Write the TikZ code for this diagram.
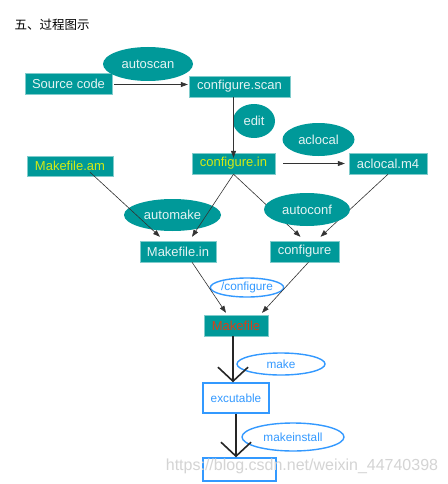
\documentclass[tikz,border=0pt]{standalone}
\usepackage{fontspec}
\setmainfont{Liberation Sans}
\newfontfamily\cjk{Noto Sans CJK SC}
\usetikzlibrary{shapes.geometric,arrows.meta}
\definecolor{tealbox}{RGB}{0,153,153}
\definecolor{tealtext}{RGB}{228,243,243}
\definecolor{yellowtext}{RGB}{212,234,20}
\definecolor{redtext}{RGB}{215,62,25}
\definecolor{bluec}{RGB}{51,153,255}

\begin{document}
\begin{tikzpicture}[x=1pt,y=-1pt,
   box/.style={draw=tealbox!50!white,fill=tealbox,text=tealtext,inner sep=0pt,
               minimum height=21pt,font=\fontsize{13}{15}\selectfont},
   tool/.style={ellipse,fill=tealbox,text=tealtext,inner sep=0pt,
                font=\fontsize{13}{15}\selectfont},
   bluetool/.style={ellipse,draw=bluec,line width=1.4pt,fill=white,text=bluec,
                    inner sep=0pt,font=\fontsize{11.8}{13}\selectfont},
   bluebox/.style={draw=bluec,line width=1.4pt,fill=white,text=bluec,
                   inner sep=0pt,font=\fontsize{11.8}{13}\selectfont},
   arr/.style={-{Triangle[length=7pt,width=5pt]},draw=black!80,line width=0.6pt},
   bigarr/.style={-{Straight Barb[length=14pt,width=30pt]},line width=1.6pt,draw=black!85}]

\fill[white] (0,0) rectangle (447,484);
\useasboundingbox (0,0) rectangle (447,484);

\node[anchor=west,font=\cjk\fontsize{12.5}{14}\selectfont] (title) at (11,25) {五、过程图示};

\node[box,minimum width=87pt] (src) at (68.5,83.5) {Source code};
\node[tool,minimum width=90pt,minimum height=34pt] (autoscan) at (148,64) {autoscan};
\node[box,minimum width=101pt] (scan) at (239.5,86.5) {configure.scan};
\node[tool,minimum width=42pt,minimum height=34pt] (edit) at (254,121) {edit};
\node[tool,minimum width=72pt,minimum height=33pt] (aclocal) at (318.5,139.5) {aclocal};
\node[box,minimum width=83pt,text=yellowtext] (cin) at (233.5,163.5) {configure.in};
\node[box,minimum width=78pt] (acm4) at (388,163.5) {aclocal.m4};
\node[box,minimum width=86pt,minimum height=20pt,text=yellowtext] (mam) at (70,166) {Makefile.am};
\node[tool,minimum width=97pt,minimum height=32pt] (automake) at (172.5,215) {automake};
\node[box,minimum width=76pt] (min) at (178,251.5) {Makefile.in};
\node[box,minimum width=69pt] (conf) at (304.5,251.5) {configure};

\draw[arr] ([xshift=2pt,yshift=-1pt]src.east) -- ([xshift=-1pt,yshift=-1pt]src.east -| scan.west);
\draw[arr] (scan.south -| cin.north) -- ([yshift=-5pt]cin.north);
\draw[arr] ([xshift=8pt]cin.east) -- ([xshift=-4pt]acm4.west);
\draw[arr] ([xshift=20pt,yshift=4pt]mam.south) -- ([xshift=-18pt,yshift=4pt]min.north);
\draw[arr] (cin.south) -- ([xshift=14pt,yshift=4pt]min.north);
\draw[arr] (cin.south) -- ([xshift=-4pt,yshift=4pt]conf.north);
\draw[arr] (acm4.south) -- ([xshift=16pt,yshift=4pt]conf.north);

\node[tool,minimum width=86pt,minimum height=33pt] (autoconf) at (307,209.5) {autoconf};
\node[bluetool,minimum width=68pt,minimum height=19pt] (runconf) at (247,287.5) {/configure};
\node[box,minimum width=64pt,text=redtext] (mk) at (236,325.5) {Makefile};

\draw[arr] ([xshift=14pt]min.south) -- ([xshift=-10pt,yshift=2pt]mk.north);
\draw[arr] ([xshift=4pt]conf.south) -- ([xshift=26pt,yshift=2pt]mk.north);

\node[bluetool,minimum width=88pt,minimum height=22pt] (make) at (281,364) {make};
\node[bluebox,minimum width=66pt,minimum height=30pt] (exe) at (236,398) {excutable};
\node[bluetool,minimum width=102pt,minimum height=28pt] (inst) at (293,437) {makeinstall};
\node[bluebox,minimum width=73pt,minimum height=23pt] (fin) at (239.5,469.5) {};

\draw[bigarr] ([xshift=-3pt]mk.south) -- ([xshift=-3pt]mk.south |- exe.north);
\draw[bigarr] (exe.south) -- (exe.south |- fin.north);

\node[text=black!17,font=\fontsize{16}{18}\selectfont] (mark) at (302,466) {https://blog.csdn.net/weixin\_44740398};

\end{tikzpicture}
\end{document}
